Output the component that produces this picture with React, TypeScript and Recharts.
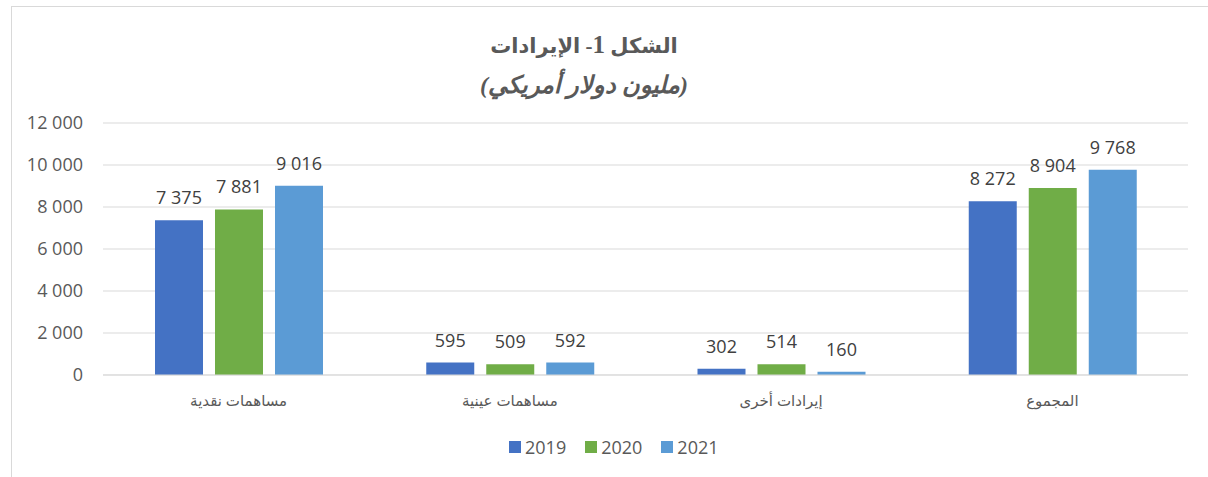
import { BarChart, Bar, XAxis, YAxis, CartesianGrid, LabelList } from "recharts";

const categories = ["مساهمات نقدية", "مساهمات عينية", "إيرادات أخرى", "المجموع"];
const values2019 = [7375, 595, 302, 8272];
const values2020 = [7881, 509, 514, 8904];
const values2021 = [9016, 592, 160, 9768];
const yTicks = [0, 2000, 4000, 6000, 8000, 10000, 12000];

const series = [
  { key: "y2019", name: "2019", color: "#4472C4" },
  { key: "y2020", name: "2020", color: "#70AD47" },
  { key: "y2021", name: "2021", color: "#5B9BD5" },
];

const data = categories.map((name, i) => ({
  name,
  y2019: values2019[i],
  y2020: values2020[i],
  y2021: values2021[i],
}));

const fmt = (v: number | string) => String(v).replace(/\B(?=(\d{3})+(?!\d))/g, " ");

const latin = "'Open Sans', 'DejaVu Sans', sans-serif";

export default function App() {
  return (
    <div style={page}>
      <div style={frame} />
      <div style={{ ...titleLine, top: 30, fontSize: 21 }} dir="rtl">
        الشكل <span style={{ fontSize: 25 }}>1</span>- الإيرادات
      </div>
      <div style={{ ...titleLine, top: 70, fontStyle: "italic" }} dir="rtl">(مليون دولار أمريكي)</div>
      <BarChart
        width={1208}
        height={477}
        data={data}
        margin={{ top: 123, right: 20, left: 0, bottom: 72 }}
        barCategoryGap={52}
        barGap={12}
      >
        <CartesianGrid vertical={false} stroke="#d9d9d9" />
        <XAxis
          dataKey="name"
          height={30}
          axisLine={{ stroke: "#d9d9d9" }}
          tickLine={false}
          tickMargin={14}
          tick={{ fill: "#595959", fontSize: 15, fontFamily: latin }}
        />
        <YAxis
          width={103}
          domain={[0, 12000]}
          ticks={yTicks}
          axisLine={false}
          tickLine={false}
          tickMargin={14}
          tickFormatter={fmt}
          tick={{ fill: "#595959", fontSize: 18, fontFamily: latin }}
        />
        {series.map((s) => (
          <Bar key={s.key} dataKey={s.key} name={s.name} fill={s.color} isAnimationActive={false}>
            <LabelList
              dataKey={s.key}
              position="top"
              offset={16}
              formatter={fmt}
              style={{ fill: "#404040", fontSize: 18, fontFamily: latin }}
            />
          </Bar>
        ))}
      </BarChart>
      <div style={legend}>
        {series.map((s) => (
          <div key={s.key} style={{ display: "flex", alignItems: "center", marginRight: 19 }}>
            <span style={{ width: 12, height: 12, background: s.color, marginRight: 4 }} />
            <span>{s.name}</span>
          </div>
        ))}
      </div>
    </div>
  );
}

const page: React.CSSProperties = {
  position: "fixed",
  left: 0,
  top: 0,
  width: 1208,
  height: 477,
  background: "#fff",
  overflow: "hidden",
};

const frame: React.CSSProperties = {
  position: "absolute",
  left: 11,
  top: 6,
  width: 1300,
  height: 600,
  borderLeft: "1px solid #d9d9d9",
  borderTop: "1px solid #d9d9d9",
};

const titleLine: React.CSSProperties = {
  position: "absolute",
  left: 384,
  width: 400,
  textAlign: "center",
  fontFamily: "'Liberation Serif', 'DejaVu Serif', 'DejaVu Sans', serif",
  fontWeight: 700,
  fontSize: 24,
  lineHeight: "30px",
  color: "#595959",
};

const legend: React.CSSProperties = {
  position: "absolute",
  left: 509,
  top: 434,
  display: "flex",
  fontFamily: latin,
  fontSize: 18,
  color: "#595959",
  lineHeight: "26px",
};
